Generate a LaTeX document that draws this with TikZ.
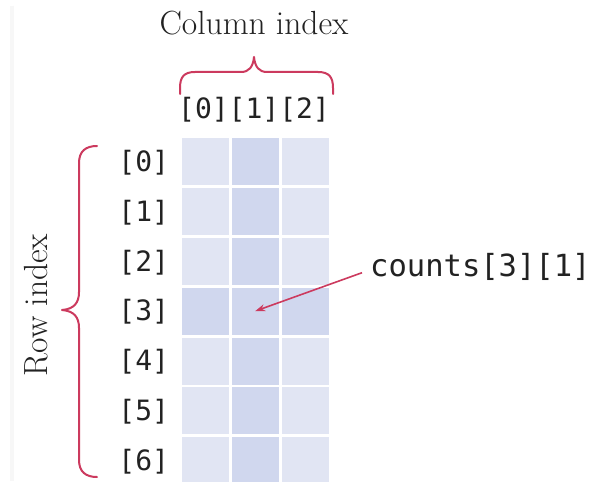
\documentclass[tikz,border=0pt]{standalone}
\usepackage{fontspec}
\newfontfamily\codefont{DejaVu Sans Mono}
\usetikzlibrary{arrows.meta}
\definecolor{cellLight}{RGB}{225,229,243}
\definecolor{cellDark}{RGB}{208,215,238}
\definecolor{braceRed}{RGB}{204,58,94}
\definecolor{ink}{RGB}{34,34,34}
\begin{document}
\begin{tikzpicture}[x=1pt,y=-1pt,
  cellbox/.style={draw=none, minimum width=47pt, minimum height=47pt, inner sep=0pt, anchor=north west},
  idx/.style={font=\codefont\fontsize{28}{30}\selectfont, text=ink, inner sep=0pt, anchor=base},
  title/.style={font=\fontsize{33.5}{36}\selectfont, text=ink, inner sep=0pt, anchor=base},
  bracepath/.style={draw=braceRed, line width=2pt, line cap=round, line join=round},
  pointer/.style={draw=braceRed, line width=1.6pt, -{Stealth[length=10pt,width=7pt]}}]
\useasboundingbox (0,0) rectangle (593,481);
\fill[white] (0,0) rectangle (593,481);
% faint page edge
\draw[line width=4pt, black!3] (12,6) -- (12,481);
% cells
\foreach \i in {0,...,6}{
  \foreach \j in {0,1,2}{
    \ifnum\i=3 \def\cc{cellDark}\else\ifnum\j=1 \def\cc{cellDark}\else\def\cc{cellLight}\fi\fi
    \node[cellbox, fill=\cc] (cell-\i-\j) at ({181.7+49.8*\j},{137.7+49.9*\i}) {};
  }
  \node[idx] (row-\i) at (143.7,{171.2+49.9*\i}) {[\i]};
}
% column header
\node[idx] (colhdr) at (254,118.5) {[0][1][2]};
% titles
\node[title] (coltitle) at (254,35) {Column index};
\node[title, rotate=90] (rowtitle) at (47,305) {Row index};
% braces
\draw[bracepath] (180,94) -- (180,88) .. controls (180,77) and (184,72) .. (195,72)
  -- (241,72) .. controls (249,72) and (253,67) .. (254,57)
  .. controls (255,67) and (259,72) .. (267,72) -- (318,72)
  .. controls (329,72) and (333,77) .. (333,88) -- (333,94);
\draw[bracepath] (97,146) .. controls (86,146) and (79,151) .. (79,163) -- (79,292)
  .. controls (79,303) and (74,309) .. (62,310)
  .. controls (74,311) and (79,317) .. (79,328) -- (79,460)
  .. controls (79,472) and (86,477) .. (97,477);
% label and pointer
\node[font=\codefont\fontsize{30.5}{32}\selectfont, text=ink, anchor=base west, inner sep=0pt] (counts) at (370,276.3) {counts[3][1]};
\draw[pointer] ([xshift=-8pt,yshift=-6pt]counts.west) -- (cell-3-1.center);
\end{tikzpicture}
\end{document}
